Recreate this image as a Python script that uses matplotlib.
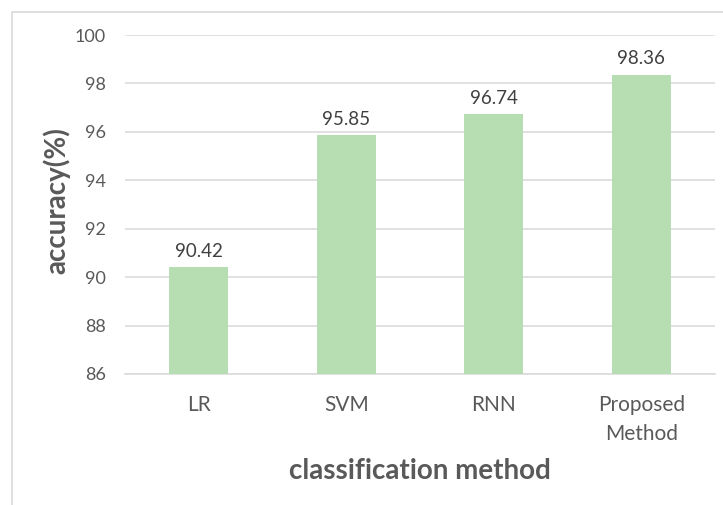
import matplotlib
matplotlib.use("Agg")
import matplotlib.pyplot as plt
from matplotlib.patches import Rectangle

categories = ["LR", "SVM", "RNN", "Proposed\nMethod"]
accuracy = [90.42, 95.85, 96.74, 98.36]
yticks = [86, 88, 90, 92, 94, 96, 98, 100]

plt.rcParams['font.family'] = ['Lato', 'DejaVu Sans']

fig = plt.figure(figsize=(7.23, 5.05), dpi=100)
# outer chart frame
fig.patches.append(Rectangle((12/723, -0.1), 1.2, 1 - 12/505 + 0.1, transform=fig.transFigure,
                             fill=False, edgecolor="#d9d9d9", linewidth=1.2))
ax = fig.add_axes([125/723, 1 - 374/505, 590/723, (374 - 35)/505])

x = range(len(categories))
bars = ax.bar(x, accuracy, width=0.4, color="#b7ddb2", zorder=3)
ax.set_ylim(86, 100)
ax.set_xlim(-0.5, len(categories) - 0.5)
ax.set_yticks(yticks)
ax.set_yticklabels([str(t) for t in yticks])
ax.set_xticks(list(x))
ax.set_xticklabels(categories, linespacing=1.55)
ax.yaxis.grid(True, color="#d9d9d9", linewidth=1.1, zorder=0)
for s in ["top", "right", "left"]:
    ax.spines[s].set_visible(False)
ax.spines["bottom"].set_color("#d9d9d9")
ax.spines["bottom"].set_linewidth(1.1)
ax.tick_params(axis="both", length=0, colors="#595959")
ax.tick_params(axis="y", pad=14, labelsize=13)
ax.tick_params(axis="x", pad=15, labelsize=15)

for xi, v in zip(x, accuracy):
    ax.text(xi, v + 0.3, f"{v:.2f}", ha="center", va="bottom", fontsize=13.5, color="#404040")

fig.text(57/723, 1 - 201/505, "accuracy(%)", rotation=90, ha="center", va="center",
         fontsize=20, fontweight="bold", color="#595959")
ax.set_xlabel("classification method", fontsize=20, fontweight="bold", color="#595959", labelpad=10)

fig.savefig("out.png", dpi=100, facecolor="white")
